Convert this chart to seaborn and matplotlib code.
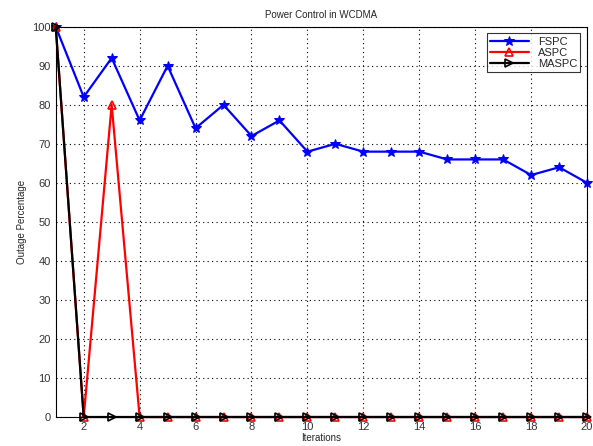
import numpy as np
import pandas as pd
import matplotlib
matplotlib.use('Agg')
import matplotlib.pyplot as plt
import seaborn as sns

# Data
iterations = list(range(1, 21))
fspc = [100, 82, 92, 76, 90, 74, 80, 72, 76, 68, 70, 68, 68, 68, 66, 66, 66, 62, 64, 60]
aspc = [100, 0, 80, 0] + [0] * 16
maspc = [100, 0] + [0] * 18

sns.set_style('white')
plt.rcParams['font.family'] = ['Liberation Sans', 'DejaVu Sans']

fig = plt.figure(figsize=(5.93, 4.46), dpi=100)
ax = fig.add_axes([0.094, 0.065, 0.896, 0.875])

sns.lineplot(x=iterations, y=fspc, ax=ax, color='blue', lw=1.6, marker='*',
             markersize=7, markeredgecolor='blue', label='FSPC', clip_on=False)
sns.lineplot(x=iterations, y=aspc, ax=ax, color='red', lw=1.6, marker='^',
             markersize=6, markerfacecolor='none', markeredgecolor='red',
             markeredgewidth=1.2, label='ASPC', clip_on=False)
sns.lineplot(x=iterations, y=maspc, ax=ax, color='black', lw=1.6, marker='>',
             markersize=6, markerfacecolor='none', markeredgecolor='black',
             markeredgewidth=1.2, label='MASPC', clip_on=False)

ax.set_xlim(1, 20)
ax.set_ylim(0, 100)
ax.set_xticks(range(2, 21, 2))
ax.set_yticks(range(0, 101, 10))
ax.grid(True, color='black', linestyle=(0, (1, 3)), linewidth=0.8)
ax.set_axisbelow(True)
for s in ax.spines.values():
    s.set_color('black')
    s.set_linewidth(0.8)
ax.tick_params(labelsize=8, length=3, direction='in', colors='#333333')

ax.set_title('Power Control in WCDMA', fontsize=7)
ax.set_xlabel('Iterations', fontsize=7, labelpad=1)
ax.set_ylabel('Outage Percentage', fontsize=7)

leg = ax.legend(loc='upper right', fontsize=8, frameon=True, fancybox=False,
                borderaxespad=0.6, handlelength=3.5, labelspacing=0.1,
                borderpad=0.3)
leg.get_frame().set_edgecolor('black')
leg.get_frame().set_linewidth(0.8)

fig.savefig('out.png', dpi=100)
